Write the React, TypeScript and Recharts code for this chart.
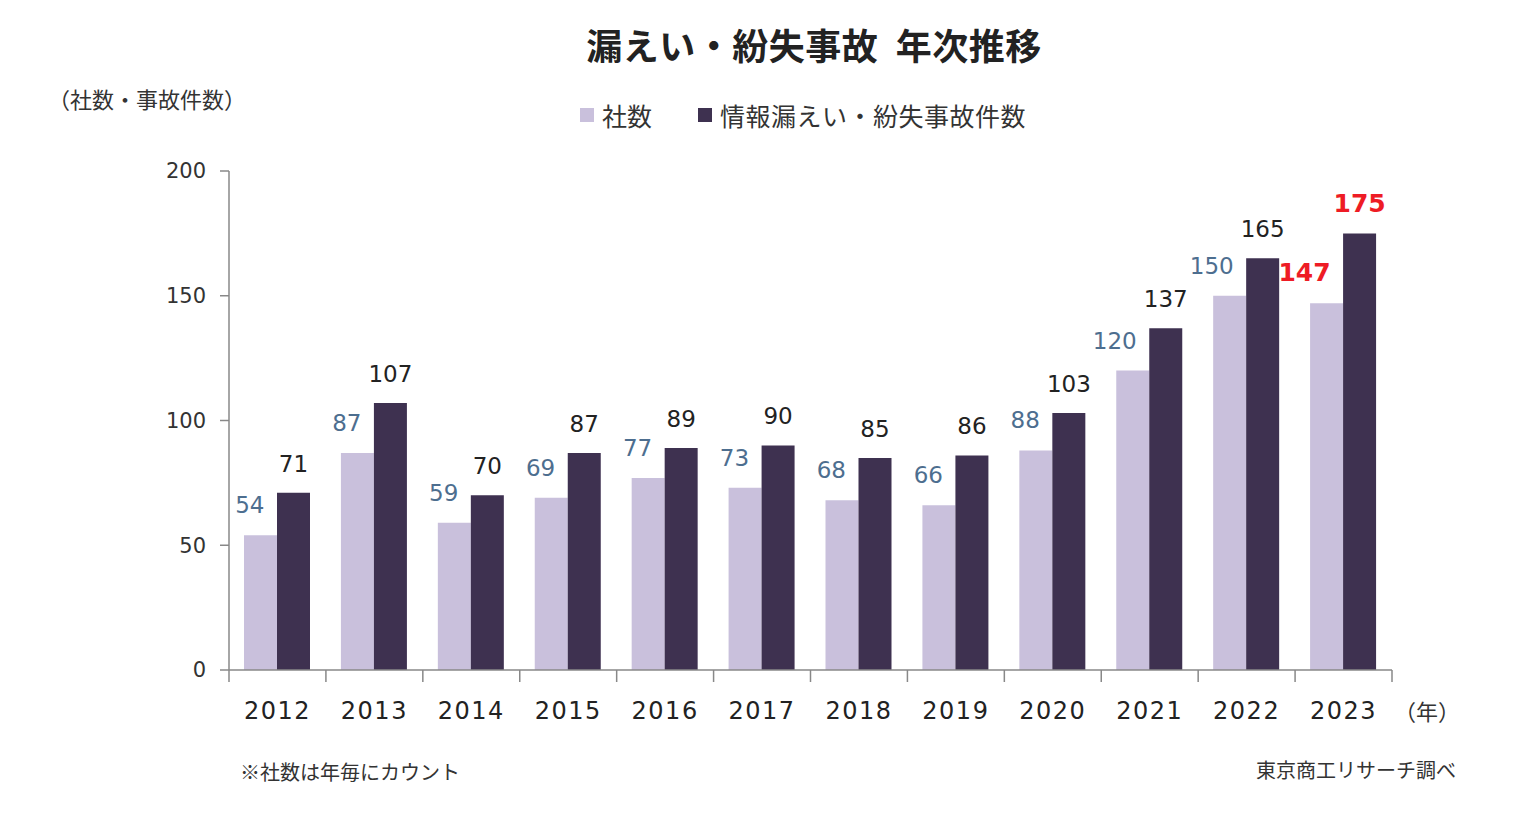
import React from "react";
import { BarChart, Bar, XAxis, YAxis, LabelList } from "recharts";

const years = ["2012", "2013", "2014", "2015", "2016", "2017", "2018", "2019", "2020", "2021", "2022", "2023"];
const companies = [54, 87, 59, 69, 77, 73, 68, 66, 88, 120, 150, 147];
const incidents = [71, 107, 70, 87, 89, 90, 85, 86, 103, 137, 165, 175];
const yTicks = [0, 50, 100, 150, 200];

const chartData = years.map((year, i) => ({
  year,
  companies: companies[i],
  incidents: incidents[i],
}));

const W = 1520;
const H = 826;
const PLOT_LEFT = 229;
const PLOT_RIGHT = 1392;
const BAND = (PLOT_RIGHT - PLOT_LEFT) / years.length;
const NUM_FONT = "'DejaVu Sans', Verdana, sans-serif";
const JP_FONT = "'Noto Sans CJK JP', 'Noto Sans', sans-serif";
const LIGHT = "#c9c0dc";
const DARK = "#3e3150";
const LAST = years.length - 1;

function XTick(props: any) {
  const { x, y, payload, index } = props;
  const axisY = y - 8;
  return (
    <g>
      <line x1={x - BAND / 2} x2={x - BAND / 2} y1={axisY} y2={axisY + 12} stroke="#888" strokeWidth={1.5} />
      {index === LAST && (
        <line x1={x + BAND / 2} x2={x + BAND / 2} y1={axisY} y2={axisY + 12} stroke="#888" strokeWidth={1.5} />
      )}
      <text x={x} y={axisY + 49} textAnchor="middle" fill="#222" fontSize={24} letterSpacing={1.5} fontFamily={NUM_FONT}>
        {payload.value}
      </text>
    </g>
  );
}

function lightLabel(props: any) {
  const { x, y, width, value, index } = props;
  const last = index === LAST;
  return (
    <text
      x={x + width / 2 + 4}
      y={y - 22}
      textAnchor="end"
      fill={last ? "#ee1c25" : "#4d6e8f"}
      fontWeight={last ? "bold" : "normal"}
      fontSize={last ? 25 : 23}
      fontFamily={NUM_FONT}
    >
      {value}
    </text>
  );
}

function darkLabel(props: any) {
  const { x, y, width, value, index } = props;
  const last = index === LAST;
  return (
    <text
      x={x + width / 2}
      y={y - 21}
      textAnchor="middle"
      fill={last ? "#ee1c25" : "#222"}
      fontWeight={last ? "bold" : "normal"}
      fontSize={last ? 25 : 23}
      fontFamily={NUM_FONT}
    >
      {value}
    </text>
  );
}

export default function App() {
  return (
    <div style={{ position: "absolute", left: 0, top: 0, width: W, height: H, background: "#fff", fontFamily: JP_FONT }}>
      <div style={{ position: "absolute", left: 0, width: W, top: 18, paddingLeft: 108, boxSizing: "border-box", textAlign: "center", fontSize: 36, fontWeight: 700, color: "#222", letterSpacing: 0.5 }}>
        漏えい・紛失事故&nbsp;&nbsp;年次推移
      </div>
      <div style={{ position: "absolute", left: 48, top: 82, fontSize: 22, color: "#333" }}>（社数・事故件数）</div>
      <div style={{ position: "absolute", left: 580, top: 97, fontSize: 25, color: "#333", display: "flex", alignItems: "center" }}>
        <span style={{ display: "inline-block", width: 14, height: 14, background: LIGHT, marginRight: 8 }} />
        <span>社数</span>
        <span style={{ display: "inline-block", width: 14, height: 14, background: DARK, marginLeft: 46, marginRight: 8 }} />
        <span style={{ letterSpacing: 0.5 }}>情報漏えい・紛失事故件数</span>
      </div>
      <BarChart
        width={W}
        height={H}
        data={chartData}
        margin={{ top: 171, right: W - PLOT_RIGHT, bottom: 106, left: PLOT_LEFT - 80 }}
        barGap={0}
        barCategoryGap={15}
      >
        <YAxis
          width={80}
          domain={[0, 200]}
          ticks={yTicks}
          interval={0}
          tickSize={9}
          tickMargin={14}
          axisLine={{ stroke: "#888", strokeWidth: 1.5 }}
          tickLine={{ stroke: "#888", strokeWidth: 1.5 }}
          tick={{ fill: "#333", fontSize: 21, fontFamily: NUM_FONT }}
        />
        <XAxis
          dataKey="year"
          height={50}
          interval={0}
          tickLine={false}
          tickSize={0}
          tickMargin={8}
          axisLine={{ stroke: "#888", strokeWidth: 1.5 }}
          tick={<XTick />}
        />
        <Bar dataKey="companies" fill={LIGHT} isAnimationActive={false}>
          <LabelList dataKey="companies" content={lightLabel} />
        </Bar>
        <Bar dataKey="incidents" fill={DARK} isAnimationActive={false}>
          <LabelList dataKey="incidents" content={darkLabel} />
        </Bar>
      </BarChart>
      <div style={{ position: "absolute", left: 1394, top: 694, fontSize: 22, color: "#333" }}>（年）</div>
      <div style={{ position: "absolute", left: 240, top: 757, fontSize: 20, color: "#333" }}>※社数は年毎にカウント</div>
      <div style={{ position: "absolute", right: W - 1456, top: 755, fontSize: 20, color: "#333" }}>東京商工リサーチ調べ</div>
    </div>
  );
}
